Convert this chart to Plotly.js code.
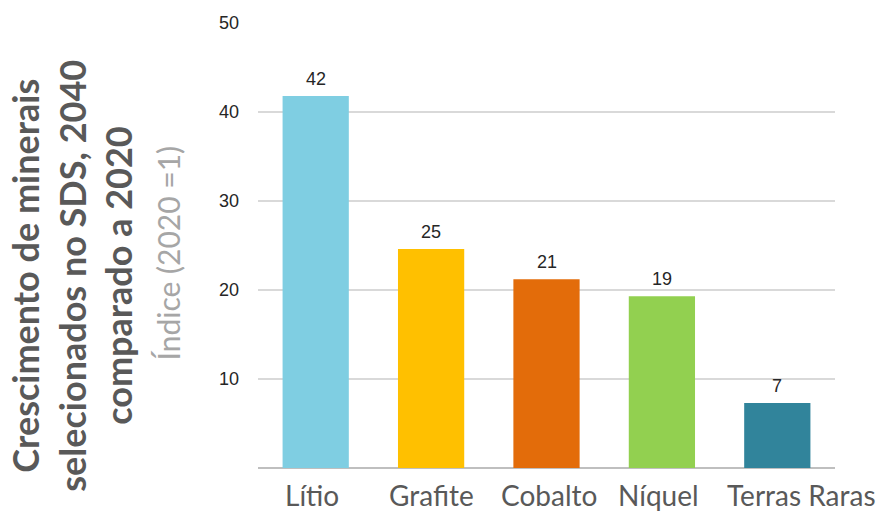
<!DOCTYPE html>
<html>
<head>
<meta charset="utf-8">
<script src="https://cdn.plot.ly/plotly-3.0.1.min.js"></script>
<style>html,body{margin:0;padding:0;background:#fff;}#chart{width:892px;height:513px;}</style>
</head>
<body>
<div id="chart"></div>
<script>
const categories = ['Lítio', 'Grafite', 'Cobalto', 'Níquel', 'Terras Raras'];
const values = [41.8, 24.6, 21.2, 19.3, 7.3];
const valueLabels = ['42', '25', '21', '19', '7'];
const barColors = ['#7fcee2', '#ffc000', '#e36c0a', '#92d050', '#31849b'];
const yTicks = [10, 20, 30, 40, 50];
const titleLines = ['Crescimento de minerais', 'selecionados no SDS, 2040', 'comparado a 2020'];
const indexLabel = 'Índice (2020 =1)';

const trace = {
  type: 'bar',
  x: categories,
  y: values,
  marker: {color: barColors},
  hoverinfo: 'skip'
};

const annotations = [];
categories.forEach((c, i) => {
  annotations.push({
    x: c, y: values[i], xref: 'x', yref: 'y',
    text: valueLabels[i], showarrow: false,
    yanchor: 'bottom', yshift: 5,
    font: {family: 'Liberation Sans, Arial, sans-serif', size: 18, color: '#262626'}
  });
});
// category labels under the bars
const catShift = [-4, 0, 2, -3, 24];
categories.forEach((c, i) => {
  annotations.push({
    x: c, y: 0, xref: 'x', yref: 'y',
    text: c, showarrow: false,
    xanchor: 'center', yanchor: 'top', yshift: -9, xshift: catShift[i],
    borderpad: 0,
    font: {family: 'Lato, sans-serif', size: 28, color: '#595959'}
  });
});
const titleShifts = [-233, -186, -140];
titleLines.forEach((t, i) => {
  annotations.push({
    xref: 'paper', yref: 'paper', x: 0, y: 0.432,
    xanchor: 'center', yanchor: 'middle', xshift: titleShifts[i],
    text: '<b>' + t + '</b>', showarrow: false, textangle: -90,
    font: {family: 'Lato, sans-serif', size: 36, color: '#595959'}
  });
});
annotations.push({
  xref: 'paper', yref: 'paper', x: 0, y: 0.482,
  xanchor: 'center', yanchor: 'middle', xshift: -90,
  text: indexLabel, showarrow: false, textangle: -90,
  font: {family: 'Lato, sans-serif', size: 30, color: '#a6a6a6'}
});

const layout = {
  width: 892, height: 513,
  margin: {l: 258, r: 57, t: 23, b: 45},
  paper_bgcolor: '#ffffff', plot_bgcolor: '#ffffff',
  showlegend: false,
  bargap: 0.426,
  xaxis: {
    type: 'category',
    range: [-0.5, categories.length - 0.5],
    showticklabels: false,
    showgrid: false, zeroline: false,
    showline: false, ticks: ''
  },
  yaxis: {
    range: [0, 50], tickvals: yTicks, ticktext: yTicks.map(String),
    showgrid: true, gridcolor: '#d9d9d9', gridwidth: 1.5,
    zeroline: true, zerolinecolor: '#bfbfbf', zerolinewidth: 2,
    showline: false, ticks: '', ticklabelstandoff: 18,
    tickfont: {family: 'Liberation Sans, Arial, sans-serif', size: 18, color: '#262626'}
  },
  annotations: annotations
};

Plotly.newPlot('chart', [trace], layout, {displayModeBar: false, staticPlot: true});
</script>
</body>
</html>
